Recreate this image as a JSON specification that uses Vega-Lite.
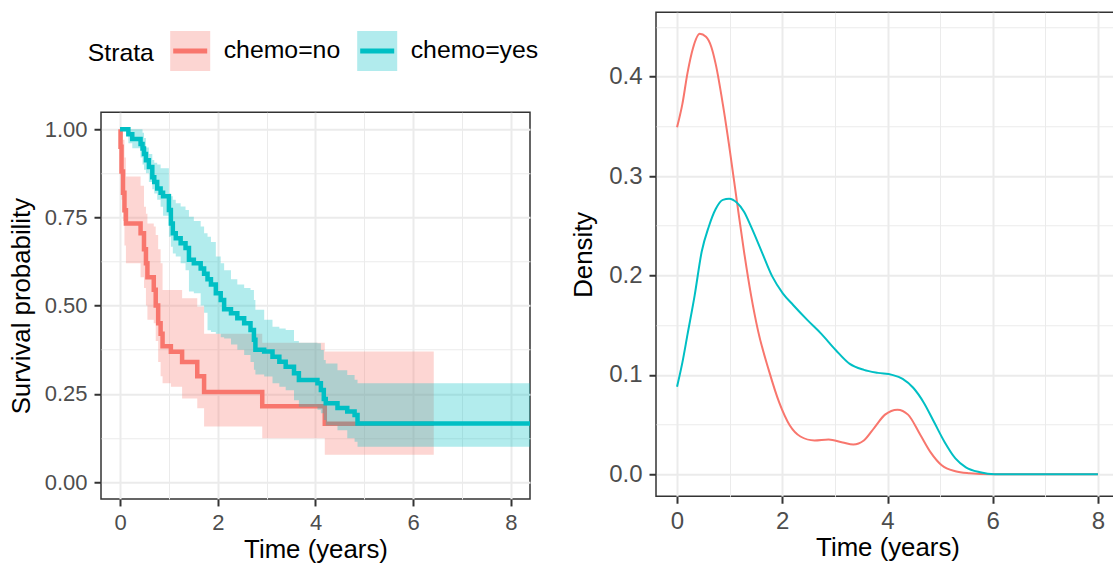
{
  "$schema": "https://vega.github.io/schema/vega-lite/v6.json",
  "padding": {"left": 7, "top": 11.25, "right": 0, "bottom": 0},
  "background": "white",
  "config": {
    "font": "Liberation Sans",
    "view": {"stroke": "#333333", "strokeWidth": 1.5},
    "axis": {
      "domain": false, "grid": true, "gridColor": "#EBEBEB",
      "tickColor": "#333333", "tickWidth": 2, "tickSize": 7,
      "labelColor": "#4D4D4D", "labelFont": "Liberation Sans", "labelFontSize": 22,
      "titleColor": "#000000", "titleFont": "Liberation Sans", "titleFontSize": 25.8, "titleFontWeight": "normal",
      "labelFlush": false, "labelOverlap": false, "labelBound": false
    }
  },
  "datasets": {
    "km": [
      {"strata": "chemo=no", "t": 0, "surv": 1, "lower": 1, "upper": 1},
      {"strata": "chemo=no", "t": 0.01, "surv": 0.95, "lower": 0.87, "upper": 1},
      {"strata": "chemo=no", "t": 0.03, "surv": 0.88, "lower": 0.8, "upper": 1},
      {"strata": "chemo=no", "t": 0.06, "surv": 0.82, "lower": 0.74, "upper": 0.97},
      {"strata": "chemo=no", "t": 0.09, "surv": 0.77, "lower": 0.67, "upper": 0.92},
      {"strata": "chemo=no", "t": 0.12, "surv": 0.733, "lower": 0.62, "upper": 0.866},
      {"strata": "chemo=no", "t": 0.42, "surv": 0.705, "lower": 0.58, "upper": 0.84},
      {"strata": "chemo=no", "t": 0.49, "surv": 0.66, "lower": 0.55, "upper": 0.78},
      {"strata": "chemo=no", "t": 0.53, "surv": 0.62, "lower": 0.5, "upper": 0.76},
      {"strata": "chemo=no", "t": 0.56, "surv": 0.58, "lower": 0.46, "upper": 0.733},
      {"strata": "chemo=no", "t": 0.69, "surv": 0.545, "lower": 0.45, "upper": 0.724},
      {"strata": "chemo=no", "t": 0.73, "surv": 0.5, "lower": 0.4, "upper": 0.7},
      {"strata": "chemo=no", "t": 0.78, "surv": 0.45, "lower": 0.34, "upper": 0.66},
      {"strata": "chemo=no", "t": 0.83, "surv": 0.42, "lower": 0.3, "upper": 0.62},
      {"strata": "chemo=no", "t": 0.87, "surv": 0.385, "lower": 0.28, "upper": 0.544},
      {"strata": "chemo=no", "t": 1.04, "surv": 0.369, "lower": 0.27, "upper": 0.544},
      {"strata": "chemo=no", "t": 1.27, "surv": 0.34, "lower": 0.237, "upper": 0.521},
      {"strata": "chemo=no", "t": 1.58, "surv": 0.3, "lower": 0.209, "upper": 0.497},
      {"strata": "chemo=no", "t": 1.72, "surv": 0.255, "lower": 0.157, "upper": 0.42},
      {"strata": "chemo=no", "t": 2.91, "surv": 0.215, "lower": 0.124, "upper": 0.395},
      {"strata": "chemo=no", "t": 4.19, "surv": 0.165, "lower": 0.077, "upper": 0.37},
      {"strata": "chemo=no", "t": 6.42, "surv": 0.165, "lower": 0.077, "upper": 0.37},
      {"strata": "chemo=yes", "t": 0, "surv": 1, "lower": 1, "upper": 1},
      {"strata": "chemo=yes", "t": 0.17, "surv": 0.986, "lower": 0.96, "upper": 1},
      {"strata": "chemo=yes", "t": 0.25, "surv": 0.972, "lower": 0.946, "upper": 1},
      {"strata": "chemo=yes", "t": 0.42, "surv": 0.958, "lower": 0.92, "upper": 1},
      {"strata": "chemo=yes", "t": 0.46, "surv": 0.945, "lower": 0.9, "upper": 0.99},
      {"strata": "chemo=yes", "t": 0.49, "surv": 0.93, "lower": 0.885, "upper": 0.975},
      {"strata": "chemo=yes", "t": 0.53, "surv": 0.912, "lower": 0.875, "upper": 0.948},
      {"strata": "chemo=yes", "t": 0.59, "surv": 0.893, "lower": 0.85, "upper": 0.93},
      {"strata": "chemo=yes", "t": 0.66, "surv": 0.864, "lower": 0.83, "upper": 0.913},
      {"strata": "chemo=yes", "t": 0.7, "surv": 0.85, "lower": 0.818, "upper": 0.905},
      {"strata": "chemo=yes", "t": 0.76, "surv": 0.832, "lower": 0.8, "upper": 0.9},
      {"strata": "chemo=yes", "t": 0.83, "surv": 0.82, "lower": 0.78, "upper": 0.889},
      {"strata": "chemo=yes", "t": 0.88, "surv": 0.81, "lower": 0.755, "upper": 0.889},
      {"strata": "chemo=yes", "t": 1.0, "surv": 0.771, "lower": 0.695, "upper": 0.818},
      {"strata": "chemo=yes", "t": 1.04, "surv": 0.733, "lower": 0.667, "upper": 0.81},
      {"strata": "chemo=yes", "t": 1.08, "surv": 0.705, "lower": 0.648, "upper": 0.8},
      {"strata": "chemo=yes", "t": 1.14, "surv": 0.691, "lower": 0.639, "upper": 0.79},
      {"strata": "chemo=yes", "t": 1.24, "surv": 0.677, "lower": 0.62, "upper": 0.781},
      {"strata": "chemo=yes", "t": 1.34, "surv": 0.663, "lower": 0.6, "upper": 0.771},
      {"strata": "chemo=yes", "t": 1.41, "surv": 0.63, "lower": 0.54, "upper": 0.752},
      {"strata": "chemo=yes", "t": 1.51, "surv": 0.62, "lower": 0.535, "upper": 0.74},
      {"strata": "chemo=yes", "t": 1.65, "surv": 0.605, "lower": 0.5, "upper": 0.724},
      {"strata": "chemo=yes", "t": 1.72, "surv": 0.59, "lower": 0.48, "upper": 0.705},
      {"strata": "chemo=yes", "t": 1.79, "surv": 0.575, "lower": 0.43, "upper": 0.695},
      {"strata": "chemo=yes", "t": 1.86, "surv": 0.56, "lower": 0.425, "upper": 0.68},
      {"strata": "chemo=yes", "t": 1.96, "surv": 0.535, "lower": 0.42, "upper": 0.639},
      {"strata": "chemo=yes", "t": 2.06, "surv": 0.516, "lower": 0.41, "upper": 0.62},
      {"strata": "chemo=yes", "t": 2.13, "surv": 0.49, "lower": 0.407, "upper": 0.6},
      {"strata": "chemo=yes", "t": 2.27, "surv": 0.478, "lower": 0.39, "upper": 0.575},
      {"strata": "chemo=yes", "t": 2.4, "surv": 0.464, "lower": 0.375, "upper": 0.56},
      {"strata": "chemo=yes", "t": 2.54, "surv": 0.45, "lower": 0.36, "upper": 0.55},
      {"strata": "chemo=yes", "t": 2.67, "surv": 0.431, "lower": 0.34, "upper": 0.544},
      {"strata": "chemo=yes", "t": 2.74, "surv": 0.403, "lower": 0.318, "upper": 0.516},
      {"strata": "chemo=yes", "t": 2.77, "surv": 0.375, "lower": 0.305, "upper": 0.488},
      {"strata": "chemo=yes", "t": 2.95, "surv": 0.37, "lower": 0.299, "upper": 0.46},
      {"strata": "chemo=yes", "t": 3.12, "surv": 0.355, "lower": 0.28, "upper": 0.44},
      {"strata": "chemo=yes", "t": 3.26, "surv": 0.341, "lower": 0.27, "upper": 0.435},
      {"strata": "chemo=yes", "t": 3.39, "surv": 0.327, "lower": 0.26, "upper": 0.431},
      {"strata": "chemo=yes", "t": 3.56, "surv": 0.308, "lower": 0.232, "upper": 0.4},
      {"strata": "chemo=yes", "t": 3.66, "surv": 0.289, "lower": 0.213, "upper": 0.395},
      {"strata": "chemo=yes", "t": 4.04, "surv": 0.28, "lower": 0.205, "upper": 0.393},
      {"strata": "chemo=yes", "t": 4.11, "surv": 0.261, "lower": 0.195, "upper": 0.374},
      {"strata": "chemo=yes", "t": 4.17, "surv": 0.235, "lower": 0.176, "upper": 0.346},
      {"strata": "chemo=yes", "t": 4.21, "surv": 0.223, "lower": 0.16, "upper": 0.336},
      {"strata": "chemo=yes", "t": 4.45, "surv": 0.21, "lower": 0.147, "upper": 0.317},
      {"strata": "chemo=yes", "t": 4.65, "surv": 0.2, "lower": 0.124, "upper": 0.303},
      {"strata": "chemo=yes", "t": 4.8, "surv": 0.19, "lower": 0.114, "upper": 0.29},
      {"strata": "chemo=yes", "t": 4.86, "surv": 0.166, "lower": 0.1, "upper": 0.28},
      {"strata": "chemo=yes", "t": 8.39, "surv": 0.166, "lower": 0.1, "upper": 0.28}
    ],
    "dens": [
      {"strata": "chemo=no", "t": 0, "d": 0.349},
      {"strata": "chemo=no", "t": 0.1, "d": 0.372},
      {"strata": "chemo=no", "t": 0.2, "d": 0.404},
      {"strata": "chemo=no", "t": 0.3, "d": 0.428},
      {"strata": "chemo=no", "t": 0.43, "d": 0.443},
      {"strata": "chemo=no", "t": 0.55, "d": 0.44},
      {"strata": "chemo=no", "t": 0.65, "d": 0.43},
      {"strata": "chemo=no", "t": 0.737, "d": 0.412},
      {"strata": "chemo=no", "t": 0.871, "d": 0.372},
      {"strata": "chemo=no", "t": 1.005, "d": 0.325},
      {"strata": "chemo=no", "t": 1.139, "d": 0.274},
      {"strata": "chemo=no", "t": 1.273, "d": 0.224},
      {"strata": "chemo=no", "t": 1.407, "d": 0.18},
      {"strata": "chemo=no", "t": 1.541, "d": 0.144},
      {"strata": "chemo=no", "t": 1.742, "d": 0.105},
      {"strata": "chemo=no", "t": 1.943, "d": 0.072},
      {"strata": "chemo=no", "t": 2.144, "d": 0.049},
      {"strata": "chemo=no", "t": 2.345, "d": 0.038},
      {"strata": "chemo=no", "t": 2.613, "d": 0.034},
      {"strata": "chemo=no", "t": 2.881, "d": 0.035},
      {"strata": "chemo=no", "t": 3.149, "d": 0.032},
      {"strata": "chemo=no", "t": 3.35, "d": 0.03},
      {"strata": "chemo=no", "t": 3.55, "d": 0.034},
      {"strata": "chemo=no", "t": 3.752, "d": 0.047},
      {"strata": "chemo=no", "t": 3.953, "d": 0.06},
      {"strata": "chemo=no", "t": 4.19, "d": 0.065},
      {"strata": "chemo=no", "t": 4.39, "d": 0.06},
      {"strata": "chemo=no", "t": 4.62, "d": 0.04},
      {"strata": "chemo=no", "t": 4.82, "d": 0.022},
      {"strata": "chemo=no", "t": 5.03, "d": 0.009},
      {"strata": "chemo=no", "t": 5.29, "d": 0.003},
      {"strata": "chemo=no", "t": 5.56, "d": 0.001},
      {"strata": "chemo=no", "t": 5.96, "d": 0},
      {"strata": "chemo=no", "t": 8, "d": 0},
      {"strata": "chemo=yes", "t": 0, "d": 0.088},
      {"strata": "chemo=yes", "t": 0.1, "d": 0.112},
      {"strata": "chemo=yes", "t": 0.2, "d": 0.141},
      {"strata": "chemo=yes", "t": 0.335, "d": 0.18},
      {"strata": "chemo=yes", "t": 0.469, "d": 0.224},
      {"strata": "chemo=yes", "t": 0.603, "d": 0.249},
      {"strata": "chemo=yes", "t": 0.737, "d": 0.267},
      {"strata": "chemo=yes", "t": 0.871, "d": 0.276},
      {"strata": "chemo=yes", "t": 0.99, "d": 0.277},
      {"strata": "chemo=yes", "t": 1.139, "d": 0.273},
      {"strata": "chemo=yes", "t": 1.273, "d": 0.264},
      {"strata": "chemo=yes", "t": 1.407, "d": 0.249},
      {"strata": "chemo=yes", "t": 1.608, "d": 0.224},
      {"strata": "chemo=yes", "t": 1.809, "d": 0.199},
      {"strata": "chemo=yes", "t": 2.01, "d": 0.182},
      {"strata": "chemo=yes", "t": 2.211, "d": 0.17},
      {"strata": "chemo=yes", "t": 2.479, "d": 0.155},
      {"strata": "chemo=yes", "t": 2.747, "d": 0.141},
      {"strata": "chemo=yes", "t": 3.015, "d": 0.125},
      {"strata": "chemo=yes", "t": 3.283, "d": 0.111},
      {"strata": "chemo=yes", "t": 3.551, "d": 0.105},
      {"strata": "chemo=yes", "t": 3.819, "d": 0.102},
      {"strata": "chemo=yes", "t": 4.087, "d": 0.1},
      {"strata": "chemo=yes", "t": 4.288, "d": 0.096},
      {"strata": "chemo=yes", "t": 4.489, "d": 0.087},
      {"strata": "chemo=yes", "t": 4.69, "d": 0.072},
      {"strata": "chemo=yes", "t": 4.89, "d": 0.052},
      {"strata": "chemo=yes", "t": 5.09, "d": 0.032},
      {"strata": "chemo=yes", "t": 5.29, "d": 0.016},
      {"strata": "chemo=yes", "t": 5.49, "d": 0.007},
      {"strata": "chemo=yes", "t": 5.76, "d": 0.002},
      {"strata": "chemo=yes", "t": 6.03, "d": 0},
      {"strata": "chemo=yes", "t": 8, "d": 0}
    ]
  },
  "spacing": 29,
  "resolve": {"scale": {"fill": "independent", "stroke": "independent"}},
  "hconcat": [
    {
      "vconcat": [
        {
          "width": 429,
          "height": 100,
          "view": {"stroke": null},
          "data": {"name": "km"},
          "layer": [
            {
              "mark": {"type": "text", "text": ""},
              "encoding": {
                "fill": {"field": "strata", "type": "nominal", "scale": {"range": ["#F8766D", "#00BFC4"]},
                         "legend": {"title": "Strata", "orient": "none", "legendX": -13.3, "legendY": 15.9, "direction": "horizontal",
                                    "titleOrient": "left", "titleAnchor": "middle", "titleBaseline": "middle", "titlePadding": 13,
                                    "labelOffset": 11, "columnPadding": 6, "symbolSize": 1600, "symbolType": "square",
                                    "symbolOpacity": 0.3, "symbolStrokeWidth": 5, "symbolStrokeColor": "transparent",
                                    "labelFontSize": 24.8, "titleFontSize": 24.8, "labelColor": "#000000", "titleColor": "#000000", "titleFontWeight": "normal",
                                    "labelFont": "Liberation Sans", "titleFont": "Liberation Sans"}}
              }
            },
            {
              "mark": {"type": "text", "text": ""},
              "encoding": {
                "stroke": {"field": "strata", "type": "nominal", "scale": {"domain": ["chemo=no", "chemo=yes"], "range": ["#F8766D", "#00BFC4"]},
                           "legend": {"title": "Strata", "orient": "none", "legendX": -13.3, "legendY": 15.9, "direction": "horizontal",
                                      "titleOrient": "left", "titleAnchor": "middle", "titleBaseline": "middle", "titlePadding": 13,
                                      "labelOffset": 11, "columnPadding": 6, "symbolSize": 1600, "symbolType": "M-1,-1M-0.85,0H0.85M1,1",
                                      "symbolStrokeWidth": 5, "symbolFillColor": "transparent", "symbolOpacity": 1,
                                      "labelFontSize": 24.8, "titleFontSize": 24.8, "labelOpacity": 0, "titleOpacity": 0, "titleFontWeight": "normal",
                                      "labelFont": "Liberation Sans", "titleFont": "Liberation Sans"}}
              }
            }
          ]
        },
        {
          "width": 429,
          "height": 386.7,
          "data": {"name": "km"},
          "layer": [
            {
              "transform": [{"filter": "datum.strata === 'chemo=no'"}],
              "mark": {"type": "area", "interpolate": "step-after", "fillOpacity": 0.3},
              "encoding": {
                "x": {"field": "t", "type": "quantitative", "scale": {"domain": [-0.39, 8.39], "nice": false, "zero": false},
                      "axis": {"title": "Time (years)", "values": [0, 1, 2, 3, 4, 5, 6, 7, 8],
                               "labelExpr": "datum.value % 2 === 0 ? datum.label : ''",
                               "gridWidth": {"condition": {"test": "datum.value % 2 === 0", "value": 2}, "value": 1},
                               "tickOpacity": {"condition": {"test": "datum.value % 2 === 0", "value": 1}, "value": 0},
                               "labelPadding": 6.5, "titlePadding": 4}},
                "y": {"field": "lower", "type": "quantitative", "scale": {"domain": [-0.048, 1.048], "nice": false, "zero": false},
                      "axis": {"title": "Survival probability", "values": [0, 0.125, 0.25, 0.375, 0.5, 0.625, 0.75, 0.875, 1],
                               "labelExpr": "abs(datum.value*4 - round(datum.value*4)) < 0.000001 ? format(datum.value, '.2f') : ''",
                               "gridWidth": {"condition": {"test": "abs(datum.value*4 - round(datum.value*4)) < 0.000001", "value": 2}, "value": 1},
                               "tickOpacity": {"condition": {"test": "abs(datum.value*4 - round(datum.value*4)) < 0.000001", "value": 1}, "value": 0},
                               "labelPadding": 7, "titlePadding": 10}},
                "y2": {"field": "upper"},
                "fill": {"field": "strata", "type": "nominal", "scale": {"range": ["#F8766D", "#00BFC4"]}, "legend": null}
              }
            },
            {
              "transform": [{"filter": "datum.strata === 'chemo=no'"}],
              "mark": {"type": "line", "interpolate": "step-after", "strokeWidth": 4.5},
              "encoding": {
                "x": {"field": "t", "type": "quantitative"},
                "y": {"field": "surv", "type": "quantitative"},
                "stroke": {"field": "strata", "type": "nominal", "scale": {"domain": ["chemo=no", "chemo=yes"], "range": ["#F8766D", "#00BFC4"]}, "legend": null}
              }
            },
            {
              "transform": [{"filter": "datum.strata === 'chemo=yes'"}],
              "mark": {"type": "area", "interpolate": "step-after", "fillOpacity": 0.3},
              "encoding": {
                "x": {"field": "t", "type": "quantitative"},
                "y": {"field": "lower", "type": "quantitative"},
                "y2": {"field": "upper"},
                "fill": {"field": "strata", "type": "nominal", "legend": null}
              }
            },
            {
              "transform": [{"filter": "datum.strata === 'chemo=yes'"}],
              "mark": {"type": "line", "interpolate": "step-after", "strokeWidth": 4.5},
              "encoding": {
                "x": {"field": "t", "type": "quantitative"},
                "y": {"field": "surv", "type": "quantitative"},
                "stroke": {"field": "strata", "type": "nominal", "legend": null}
              }
            }
          ]
        }
      ],
      "spacing": 0,
      "bounds": "flush",
      "resolve": {"scale": {"fill": "independent", "stroke": "independent"}}
    },
    {
      "width": 463,
      "height": 484,
      "data": {"name": "dens"},
      "mark": {"type": "line", "interpolate": "monotone", "strokeWidth": 2},
      "encoding": {
        "x": {"field": "t", "type": "quantitative", "scale": {"domain": [-0.4, 8.4], "nice": false, "zero": false},
              "axis": {"title": "Time (years)", "values": [0, 1, 2, 3, 4, 5, 6, 7, 8],
                       "labelExpr": "datum.value % 2 === 0 ? datum.label : ''",
                       "gridWidth": {"condition": {"test": "datum.value % 2 === 0", "value": 2}, "value": 1},
                       "tickOpacity": {"condition": {"test": "datum.value % 2 === 0", "value": 1}, "value": 0},
                       "labelFontSize": 24, "labelPadding": 6.5, "titlePadding": 2}},
        "y": {"field": "d", "type": "quantitative", "scale": {"domain": [-0.0221, 0.4647], "nice": false, "zero": false},
              "axis": {"title": "Density", "values": [0, 0.05, 0.1, 0.15, 0.2, 0.25, 0.3, 0.35, 0.4, 0.45],
                       "labelExpr": "abs(datum.value*10 - round(datum.value*10)) < 0.000001 ? format(datum.value, '.1f') : ''",
                       "gridWidth": {"condition": {"test": "abs(datum.value*10 - round(datum.value*10)) < 0.000001", "value": 2}, "value": 1},
                       "tickOpacity": {"condition": {"test": "abs(datum.value*10 - round(datum.value*10)) < 0.000001", "value": 1}, "value": 0},
                       "labelFontSize": 24, "labelPadding": 7, "titlePadding": 12}},
        "stroke": {"field": "strata", "type": "nominal", "scale": {"range": ["#F8766D", "#00BFC4"]}, "legend": null}
      }
    }
  ]
}
